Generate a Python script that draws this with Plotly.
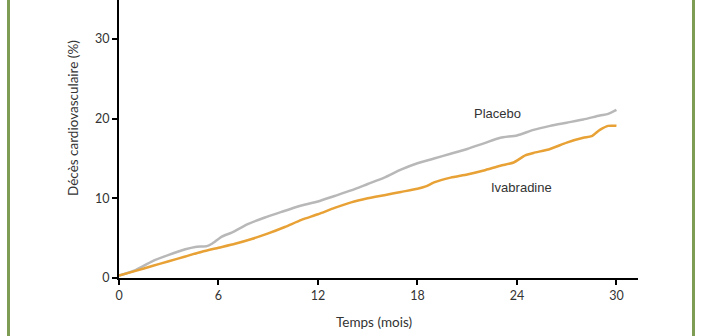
import plotly.graph_objects as go

# ---- data ----
placebo_months = [0, 1, 2, 3, 4, 4.6, 5.3, 5.6, 6.2, 6.8, 7.8, 8.8, 9.8, 11, 12, 13, 14, 15, 16, 17,
                  18, 19, 20, 21, 22, 23, 24, 25, 26, 27, 28, 29, 29.5, 30]
placebo_values = [0.3, 1.0, 2.1, 2.9, 3.6, 3.9, 4.0, 4.3, 5.2, 5.7, 6.8, 7.6, 8.3, 9.1, 9.6, 10.3, 11.0, 11.8,
                  12.6, 13.6, 14.4, 15.0, 15.6, 16.2, 16.9, 17.6, 17.9, 18.6, 19.1, 19.5, 19.9, 20.4, 20.6, 21.1]

ivab_months = [0, 1, 2, 3, 4, 5, 6, 7, 8, 9, 10, 11, 12, 13, 14, 15, 16, 17, 18, 18.5, 19, 20, 21, 22,
               23, 23.8, 24.5, 25, 26, 27, 28, 28.5, 29, 29.5, 30]
ivab_values = [0.3, 0.9, 1.5, 2.1, 2.7, 3.3, 3.8, 4.3, 4.9, 5.6, 6.4, 7.3, 8.0, 8.8, 9.5, 10.0, 10.4, 10.8,
               11.2, 11.5, 12.0, 12.6, 13.0, 13.5, 14.1, 14.5, 15.4, 15.7, 16.2, 17.0, 17.6, 17.8, 18.6, 19.1, 19.1]

series_names = ["Placebo", "Ivabradine"]
label_pos = [(22.8, 20.7), (24.3, 11.3)]

x_ticks = [0, 6, 12, 18, 24, 30]
y_ticks = [0, 10, 20, 30]
x_title = "Temps (mois)"
y_title = "Décès cardiovasculaire (%)"

W, H = 702, 336
L, R, T, B = 119, 64, 0, 58

fig = go.Figure()
fig.add_trace(go.Scatter(x=placebo_months, y=placebo_values, mode="lines", name=series_names[0],
                         line=dict(color="#b8b8b8", width=2.5, shape="spline", smoothing=0.6)))
fig.add_trace(go.Scatter(x=ivab_months, y=ivab_values, mode="lines", name=series_names[1],
                         line=dict(color="#e8a135", width=2.5, shape="spline", smoothing=0.6)))

for name, (lx, ly) in zip(series_names, label_pos):
    fig.add_annotation(x=lx, y=ly, text=name, showarrow=False, xref="x", yref="y",
                       font=dict(family="Liberation Sans, Arial", size=13, color="#333333"))

pw = W - L - R
ph = H - T - B
# axis titles
fig.add_annotation(x=(73 - L) / pw, y=(H - B - 118) / ph, xref="paper", yref="paper",
                   xanchor="center", yanchor="middle",
                   text=y_title, textangle=-90, showarrow=False,
                   font=dict(family="Lato, Open Sans", size=13.5, color="#333333"))
fig.add_annotation(x=(374 - L) / pw, y=(H - B - 322) / ph, xref="paper", yref="paper",
                   xanchor="center", yanchor="middle",
                   text=x_title, showarrow=False,
                   font=dict(family="Lato, Open Sans", size=13.5, color="#333333"))

# green frame lines
for px in (8.5, 693.5):
    xp = (px - L) / pw
    fig.add_shape(type="line", xref="paper", yref="paper", x0=xp, x1=xp,
                  y0=-B / ph, y1=(ph + T) / ph, line=dict(color="#7f9c55", width=3))

fig.update_layout(
    width=W, height=H,
    margin=dict(l=L, r=R, t=T, b=B),
    paper_bgcolor="white", plot_bgcolor="white",
    showlegend=False,
    xaxis=dict(range=[0, 31.3], tickvals=x_ticks, ticktext=[str(v) for v in x_ticks],
               showgrid=False, zeroline=False, showline=True, linecolor="black", linewidth=2,
               ticks="outside", ticklen=5, tickwidth=1.5, tickcolor="black",
               tickfont=dict(family="Lato, Open Sans", size=12.5, color="#333333")),
    yaxis=dict(range=[0, 34.9], tickvals=y_ticks, ticktext=[str(v) for v in y_ticks],
               showgrid=False, zeroline=False, showline=True, linecolor="black", linewidth=2,
               ticks="outside", ticklen=5, tickwidth=1.5, tickcolor="black",
               tickfont=dict(family="Lato, Open Sans", size=12.5, color="#333333")),
)

fig.write_html("out.html")
